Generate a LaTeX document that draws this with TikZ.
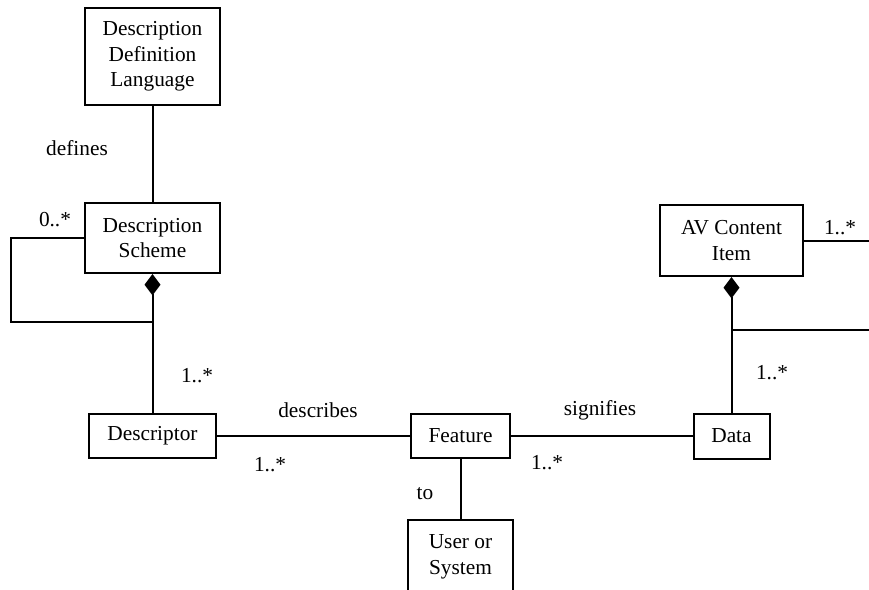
\documentclass[tikz,border=0pt]{standalone}
\usepackage{fontspec}
\setmainfont{Liberation Serif}
\usetikzlibrary{arrows.meta}
\begin{document}
\begin{tikzpicture}[x=0.75pt,y=-0.75pt,
  every node/.style={font=\fontsize{16}{19.2}\selectfont},
  cls/.style={draw,line width=1.5pt,align=center,inner sep=0pt},
  assoc/.style={line width=1.5pt},
  compo/.style={line width=1.5pt,{Diamond[length=16pt,width=12pt]}-},
  lbl/.style={inner sep=0pt}]
\clip (0,0) rectangle (869,590);
\useasboundingbox (0,0) rectangle (869,590);

% classes
\node[cls,minimum width=135*0.75pt,minimum height=97*0.75pt] (ddl) at (152.5,56.5) {Description\\Definition\\Language};
\node[cls,minimum width=135*0.75pt,minimum height=70*0.75pt] (ds) at (152.5,238) {Description\\Scheme};
\node[cls,minimum width=127*0.75pt,minimum height=44*0.75pt] (desc) at (152.5,436) {Descriptor};
\node[cls,minimum width=99*0.75pt,minimum height=44*0.75pt] (feat) at (460.5,436) {Feature};
\node[cls,minimum width=105*0.75pt,minimum height=74*0.75pt] (user) at (460.5,557) {User or\\System};
\node[cls,minimum width=143*0.75pt,minimum height=71*0.75pt] (av) at (731.5,240.5) {AV Content\\Item};
\node[cls,minimum width=76*0.75pt,minimum height=45*0.75pt] (data) at (731.5,436) {Data};

% helper points for the self loop and the edge-running lines
\coordinate (loopA) at (11,322);
\coordinate (loopB) at (152.5,322);
\coordinate (avOut) at (869,240.5);
\coordinate (avJoin) at (731.5,330);
\coordinate (avOut2) at (869,330);

% connectors
\draw[assoc] (ddl) -- (ds);
\draw[compo] (ds.south) -- (desc.north);
\draw[assoc] (ds.west) -| (loopA) -- (loopB);
\draw[assoc] (desc) -- (feat);
\draw[assoc] (feat) -- (data);
\draw[assoc] (feat) -- (user);
\draw[compo] (av.south) -- (data.north);
\draw[assoc] (av.east) -- (avOut);
\draw[assoc] (avJoin) -- (avOut2);

% labels
\node[lbl] (l1) at (77,148) {defines};
\node[lbl] (l2) at (55,220) {0..*};
\node[lbl] (l3) at (197,376) {1..*};
\node[lbl] (l4) at (318,410) {describes};
\node[lbl] (l5) at (270,465) {1..*};
\node[lbl] (l6) at (425,494) {to};
\node[lbl] (l7) at (600,410) {signifies};
\node[lbl] (l8) at (547,463) {1..*};
\node[lbl] (l9) at (772,373) {1..*};
\node[lbl] (l10) at (840,228) {1..*};
\end{tikzpicture}
\end{document}
